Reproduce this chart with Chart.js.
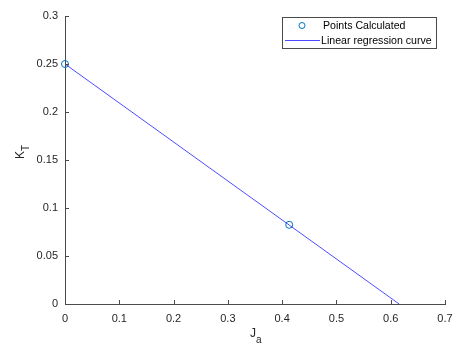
<!DOCTYPE html>
<html><head><meta charset="utf-8">
<script src="https://cdn.jsdelivr.net/npm/chart.js@4"></script>
<style>html,body{margin:0;padding:0;background:#fff}#wrap{width:457px;height:349px}</style>
</head><body><div id="wrap"><canvas id="c" width="457" height="349"></canvas></div>
<script>
const pointsX = [0, 0.413];
const pointsY = [0.25, 0.0825];
const lineX = [0, 0.6155];
const lineY = [0.25, 0];
const xTicks = [0, 0.1, 0.2, 0.3, 0.4, 0.5, 0.6, 0.7];
const yTicks = [0, 0.05, 0.1, 0.15, 0.2, 0.25, 0.3];
const seriesLabels = ['Points Calculated', 'Linear regression curve'];
const xLabel = ['J', 'a'];
const yLabel = ['K', 'T'];

const FONT = '"Liberation Sans", Arial, sans-serif';
const AX = '#262626';

const decor = {
  id: 'decor',
  afterDraw(chart) {
    const ctx = chart.ctx, xs = chart.scales.x, ys = chart.scales.y, a = chart.chartArea;
    ctx.save();
    ctx.strokeStyle = '#4a4a4a'; ctx.lineWidth = 1;
    ctx.beginPath();
    xTicks.forEach(v => { const p = Math.round(xs.getPixelForValue(v)) + 0.5; ctx.moveTo(p, a.bottom); ctx.lineTo(p, a.bottom - 4); });
    yTicks.forEach(v => { const p = Math.round(ys.getPixelForValue(v)) + 0.5; ctx.moveTo(a.left, p); ctx.lineTo(a.left + 4, p); });
    ctx.stroke();
    // axis titles
    ctx.fillStyle = AX;
    ctx.font = '12px ' + FONT;
    ctx.textBaseline = 'alphabetic';
    let cx = (a.left + a.right) / 2;
    ctx.textAlign = 'left';
    const jw = ctx.measureText(xLabel[0]).width;
    ctx.fillText(xLabel[0], cx - 5, 337);
    ctx.font = '10px ' + FONT;
    ctx.fillText(xLabel[1], cx - 5 + jw, 343);
    ctx.save();
    ctx.translate(24, 153);
    ctx.rotate(-Math.PI / 2);
    ctx.font = '12px ' + FONT;
    const kw = ctx.measureText(yLabel[0]).width;
    ctx.fillText(yLabel[0], -6, 0);
    ctx.font = '10px ' + FONT;
    ctx.fillText(yLabel[1], -6 + kw, 5);
    ctx.restore();
    // legend
    const lx = 282.5, ly = 17.5, lw = 154, lh = 31;
    ctx.fillStyle = '#fff'; ctx.fillRect(lx, ly, lw, lh);
    ctx.strokeStyle = '#4a4a4a'; ctx.strokeRect(lx, ly, lw, lh);
    ctx.strokeStyle = '#0072BD'; ctx.lineWidth = 1;
    ctx.beginPath(); ctx.arc(302, 25.5, 3, 0, Math.PI * 2); ctx.stroke();
    ctx.strokeStyle = 'rgba(0,0,255,0.7)';
    ctx.beginPath(); ctx.moveTo(285, 40.5); ctx.lineTo(320, 40.5); ctx.stroke();
    ctx.fillStyle = '#000'; ctx.font = '10.6px ' + FONT; ctx.textBaseline = 'middle';
    ctx.fillText(seriesLabels[0], 323, 26);
    ctx.fillText(seriesLabels[1], 321, 41);
    ctx.restore();
  }
};

new Chart(document.getElementById('c'), {
  type: 'scatter',
  data: {
    datasets: [
      { label: seriesLabels[1], type: 'line', data: lineX.map((x, i) => ({x, y: lineY[i]})),
        borderColor: 'rgba(0,0,255,0.7)', borderWidth: 1, pointRadius: 0, fill: false, showLine: true, tension: 0 },
      { label: seriesLabels[0], data: pointsX.map((x, i) => ({x, y: pointsY[i]})),
        borderColor: '#0072BD', backgroundColor: 'rgba(0,0,0,0)', borderWidth: 1, pointRadius: 3.5 }
    ]
  },
  options: {
    responsive: false, animation: false, clip: false,
    layout: { padding: { top: 16, right: 12, left: 0, bottom: 0 } },
    plugins: { legend: { display: false }, tooltip: { enabled: false } },
    scales: {
      x: { type: 'linear', min: 0, max: 0.7,
        afterFit: s => { s.height = 45; s.paddingLeft = 0; s.paddingRight = 0; },
        afterBuildTicks: s => { s.ticks = xTicks.map(v => ({value: v})); },
        border: { display: true, color: '#4a4a4a', width: 1 },
        grid: { display: false, drawTicks: false },
        ticks: { color: AX, font: { family: FONT, size: 11 }, padding: 8, maxRotation: 0,
          callback: v => String(+v.toFixed(2)) } },
      y: { type: 'linear', min: 0, max: 0.3,
        afterFit: s => { s.width = 65; s.paddingTop = 0; s.paddingBottom = 0; },
        afterBuildTicks: s => { s.ticks = yTicks.map(v => ({value: v})); },
        border: { display: true, color: '#4a4a4a', width: 1 },
        grid: { display: false, drawTicks: false },
        ticks: { color: AX, font: { family: FONT, size: 11 }, padding: 7,
          callback: v => String(+v.toFixed(2)) } }
    }
  },
  plugins: [decor]
});
</script></body></html>
